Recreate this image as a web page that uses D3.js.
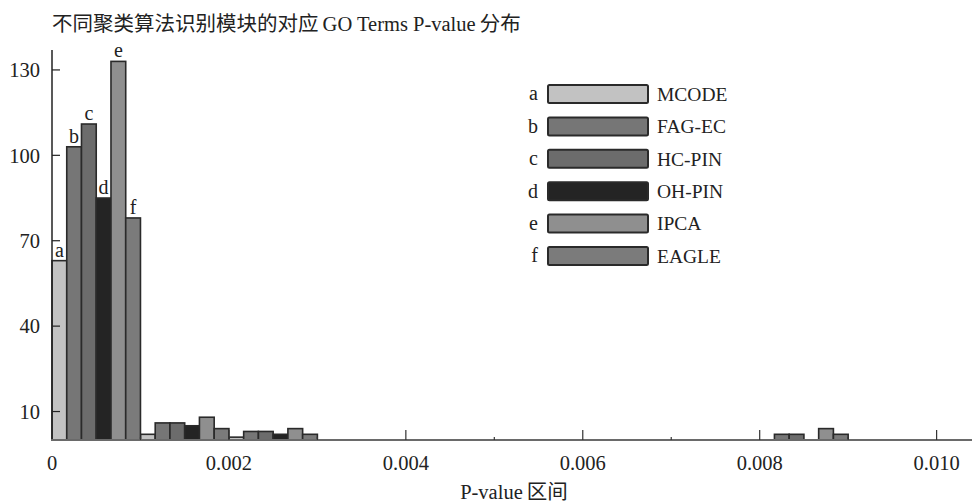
<!DOCTYPE html>
<html>
<head>
<meta charset="utf-8">
<script src="https://cdn.jsdelivr.net/npm/d3@7.9.0/dist/d3.min.js"></script>
<style>
  body { margin: 0; background: #fff; }
  svg text { font-family: "Liberation Serif", "Noto Sans CJK SC", serif; fill: #222; }
</style>
</head>
<body>
<svg id="chart" width="972" height="503"></svg>
<script>
// bins of width 0.001, starting points
const binStarts = [0, 0.001, 0.002, 0.003, 0.004, 0.005, 0.006, 0.007, 0.008, 0.009];
const binWidth = 0.001;

const letters = ["a", "b", "c", "d", "e", "f"];
const methods = ["MCODE", "FAG-EC", "HC-PIN", "OH-PIN", "IPCA", "EAGLE"];
const fills   = ["#c2c2c2", "#767676", "#6c6c6c", "#242424", "#8f8f8f", "#7b7b7b"];

// counts per bin, one array per method
const mcode = [63, 2, 1, 0, 0, 0, 0, 0, 0, 0];
const fagec = [103, 6, 3, 0, 0, 0, 0, 0, 2, 0];
const hcpin = [111, 6, 3, 0, 0, 0, 0, 0, 2, 0];
const ohpin = [85, 5, 2, 0, 0, 0, 0, 0, 0, 0];
const ipca  = [133, 8, 4, 0, 0, 0, 0, 0, 4, 0];
const eagle = [78, 4, 2, 0, 0, 0, 0, 0, 2, 0];
const series = [mcode, fagec, hcpin, ohpin, ipca, eagle];

const yTicks = [10, 40, 70, 100, 130];
const xTicks = [0, 0.002, 0.004, 0.006, 0.008, 0.010];
const xMinor = [0.001, 0.003, 0.005, 0.007, 0.009];

const svg = d3.select("#chart");

const x = d3.scaleLinear().domain([0, 0.0104]).range([52, 972]);
const y = d3.scaleLinear().domain([0, 137]).range([440, 50]);
const inner = d3.scaleBand().domain(d3.range(6)).range([0, x(binWidth) - x(0)]).padding(0);

// title
svg.append("text")
  .attr("x", 52).attr("y", 31)
  .attr("font-size", 20.5)
  .text("不同聚类算法识别模块的对应\u2009GO Terms P-value\u2009分布");

// bars
let bars = [];
series.forEach((vals, si) => {
  vals.forEach((v, bi) => {
    if (v > 0) bars.push({ si: si, bi: bi, v: v });
  });
});

svg.append("g").selectAll("rect")
  .data(bars)
  .enter()
  .append("rect")
  .attr("x", d => x(binStarts[d.bi]) + inner(d.si))
  .attr("y", d => y(d.v))
  .attr("width", inner.bandwidth())
  .attr("height", d => y(0) - y(d.v))
  .attr("fill", d => fills[d.si])
  .attr("stroke", "#2a2a2a")
  .attr("stroke-width", 1.6);

// letters above the first bin
svg.append("g").selectAll("text")
  .data(bars.filter(d => d.bi === 0))
  .enter()
  .append("text")
  .attr("x", d => x(binStarts[0]) + inner(d.si) + inner.bandwidth() / 2)
  .attr("y", d => y(d.v) - 4)
  .attr("text-anchor", "middle")
  .attr("font-size", 20)
  .text(d => letters[d.si]);

// y axis
const yAxis = svg.append("g");
yAxis.append("line")
  .attr("x1", x(0)).attr("x2", x(0))
  .attr("y1", y(137)).attr("y2", y(0))
  .attr("stroke", "#222").attr("stroke-width", 1.5);
yAxis.selectAll(".tick")
  .data(yTicks)
  .enter()
  .append("line")
  .attr("x1", x(0)).attr("x2", x(0) + 8)
  .attr("y1", d => y(d)).attr("y2", d => y(d))
  .attr("stroke", "#222").attr("stroke-width", 1.2);
yAxis.selectAll("text")
  .data(yTicks)
  .enter()
  .append("text")
  .attr("x", 40)
  .attr("y", d => y(d))
  .attr("dy", "0.35em")
  .attr("text-anchor", "end")
  .attr("font-size", 20.5)
  .text(d => d);

// x axis
const xAxis = svg.append("g");
xAxis.append("line")
  .attr("x1", x(0) - 1).attr("x2", 972)
  .attr("y1", y(0)).attr("y2", y(0))
  .attr("stroke", "#6a6a6a").attr("stroke-width", 2.2);
xAxis.selectAll(".major")
  .data(xTicks.slice(1))
  .enter()
  .append("line")
  .attr("x1", d => x(d)).attr("x2", d => x(d))
  .attr("y1", y(0)).attr("y2", y(0) - 10)
  .attr("stroke", "#333").attr("stroke-width", 1.2);
xAxis.selectAll(".minor")
  .data(xMinor)
  .enter()
  .append("line")
  .attr("x1", d => x(d)).attr("x2", d => x(d))
  .attr("y1", y(0)).attr("y2", y(0) - 3)
  .attr("stroke", "#333").attr("stroke-width", 1.2);
xAxis.selectAll("text")
  .data(xTicks)
  .enter()
  .append("text")
  .attr("x", d => x(d))
  .attr("y", 470)
  .attr("text-anchor", "middle")
  .attr("font-size", 20.5)
  .text(d => d === 0 ? "0" : d3.format(".3f")(d));

svg.append("text")
  .attr("x", 514).attr("y", 499)
  .attr("text-anchor", "middle")
  .attr("font-size", 20.5)
  .text("P-value\u2009区间");

// legend
const legend = svg.append("g").attr("transform", "translate(0,94)");
const rows = legend.selectAll("g")
  .data(methods)
  .enter()
  .append("g")
  .attr("transform", (d, i) => `translate(0,${i * 32.4})`);
rows.append("text")
  .attr("x", 538).attr("y", 0).attr("dy", "0.32em")
  .attr("text-anchor", "end")
  .attr("font-size", 20)
  .text((d, i) => letters[i]);
rows.append("rect")
  .attr("x", 548).attr("y", -9)
  .attr("width", 100).attr("height", 18)
  .attr("rx", 1.5)
  .attr("fill", (d, i) => fills[i])
  .attr("stroke", "#2a2a2a").attr("stroke-width", 2);
rows.append("text")
  .attr("x", 657).attr("y", 0).attr("dy", "0.35em")
  .attr("font-size", 19.5)
  .text(d => d);
</script>
</body>
</html>
